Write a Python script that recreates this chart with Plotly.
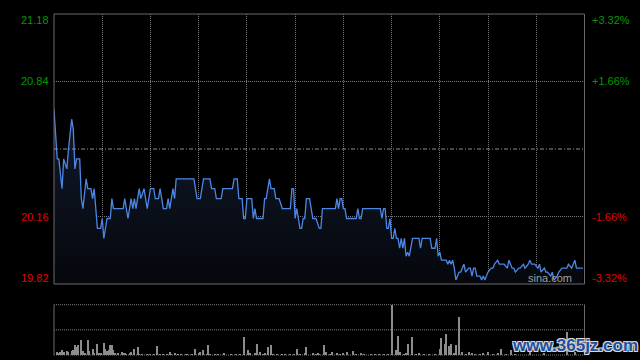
import plotly.graph_objects as go

# ---------------- data ----------------
prev_close = 20.50
price_minutes = [0, 2, 3, 5, 6, 8, 9, 11, 12, 13, 14, 16, 17, 18, 20, 21, 23, 24, 25, 26,
                 27, 29, 30, 31, 32, 33, 35, 36, 37, 43, 44, 45, 46, 48, 49, 50, 51, 52, 53, 54,
                 56, 58, 60, 62, 63, 65, 66, 67, 68, 70, 71, 72, 74, 75, 76, 87, 89, 91, 93, 97,
                 98, 100, 101, 104, 105, 111, 112, 114, 115, 117, 118, 119, 120, 123, 124, 125, 126, 130, 131, 132,
                 134, 135, 137, 138, 140, 142, 147, 148, 149, 150, 151, 152, 153, 154, 155, 156, 157, 159, 161, 163,
                 165, 166, 167, 175, 176, 177, 178, 179, 180, 181, 182, 188, 189, 190, 191, 192, 203, 204, 205, 206,
                 207, 208, 209, 210, 211, 212, 213, 214, 215, 216, 217, 218, 219, 220, 221, 223, 227, 228, 229, 234,
                 235, 237, 238, 239, 240, 241, 242, 244, 245, 246, 247, 248, 249, 250, 252, 253, 255, 256, 258, 259,
                 260, 261, 262, 263, 265, 266, 267, 268, 269, 270, 272, 273, 274, 276, 277, 280, 282, 283, 285, 286,
                 287, 289, 290, 292, 293, 295, 296, 297, 299, 301, 302, 303, 305, 306, 307, 309, 310, 311, 313, 314,
                 316, 319, 320, 322, 324, 325, 329]
prices = [20.70, 20.45, 20.45, 20.30, 20.45, 20.40, 20.50, 20.65, 20.60, 20.40, 20.45, 20.45, 20.25, 20.20, 20.35, 20.30, 20.30, 20.25, 20.30, 20.20,
          20.10, 20.10, 20.15, 20.05, 20.10, 20.15, 20.15, 20.25, 20.20, 20.20, 20.25, 20.20, 20.15, 20.25, 20.20, 20.25, 20.20, 20.25, 20.30, 20.25,
          20.30, 20.20, 20.30, 20.30, 20.25, 20.25, 20.30, 20.25, 20.20, 20.20, 20.25, 20.20, 20.30, 20.25, 20.35, 20.35, 20.25, 20.25, 20.35, 20.35,
          20.30, 20.30, 20.25, 20.25, 20.30, 20.30, 20.35, 20.35, 20.25, 20.25, 20.15, 20.15, 20.25, 20.25, 20.15, 20.20, 20.15, 20.15, 20.25, 20.25,
          20.35, 20.30, 20.30, 20.25, 20.25, 20.20, 20.20, 20.30, 20.30, 20.15, 20.20, 20.15, 20.10, 20.10, 20.15, 20.15, 20.25, 20.25, 20.15, 20.15,
          20.10, 20.10, 20.20, 20.20, 20.25, 20.20, 20.25, 20.25, 20.20, 20.20, 20.15, 20.15, 20.20, 20.15, 20.15, 20.20, 20.20, 20.15, 20.20, 20.20,
          20.10, 20.10, 20.15, 20.05, 20.05, 20.10, 20.05, 20.05, 20.00, 20.05, 20.00, 20.05, 19.96, 19.98, 19.96, 20.05, 20.05, 20.00, 20.05, 20.05,
          20.00, 20.00, 20.05, 19.96, 19.98, 19.94, 19.94, 19.94, 19.92, 19.94, 19.92, 19.94, 19.90, 19.84, 19.88, 19.88, 19.92, 19.88, 19.90, 19.90,
          19.86, 19.90, 19.90, 19.86, 19.86, 19.84, 19.86, 19.84, 19.86, 19.88, 19.90, 19.90, 19.92, 19.94, 19.92, 19.92, 19.90, 19.94, 19.90, 19.90,
          19.88, 19.90, 19.90, 19.92, 19.90, 19.92, 19.94, 19.92, 19.92, 19.90, 19.92, 19.88, 19.90, 19.88, 19.88, 19.86, 19.88, 19.84, 19.86, 19.88,
          19.90, 19.90, 19.92, 19.90, 19.94, 19.90, 19.90]

vol_minutes = [2, 3, 4, 5, 6, 8, 9, 11, 12, 13, 14, 15, 17, 18, 19, 21, 22, 24, 25, 27,
               28, 29, 31, 32, 33, 34, 35, 36, 37, 38, 40, 42, 43, 44, 45, 47, 48, 50, 52, 53,
               55, 58, 60, 62, 64, 66, 68, 70, 72, 73, 75, 77, 79, 82, 83, 86, 88, 90, 91, 93,
               95, 96, 97, 100, 102, 106, 110, 113, 116, 118, 121, 122, 125, 126, 128, 130, 131, 133, 135, 136,
               139, 142, 144, 147, 149, 151, 153, 156, 157, 161, 163, 164, 165, 168, 169, 172, 173, 176, 178, 180,
               182, 186, 188, 191, 193, 197, 200, 202, 205, 208, 210, 213, 214, 215, 218, 219, 220, 223, 225, 227,
               230, 233, 237, 240, 241, 243, 244, 246, 247, 249, 250, 252, 254, 256, 258, 260, 262, 265, 267, 270,
               273, 276, 278, 281, 284, 287, 296, 305, 319, 324]
volumes = [900, 700, 900, 1500, 1000, 1200, 900, 1300, 1500, 3000, 2500, 3000, 4500, 1300, 700, 4500, 1300, 1800, 700, 3300,
           700, 700, 3700, 2000, 1300, 1500, 3000, 3000, 1500, 700, 700, 1100, 700, 700, 500, 700, 1000, 1800, 2400, 500,
           300, 300, 300, 500, 2700, 300, 300, 300, 900, 500, 700, 300, 300, 500, 300, 300, 2000, 700, 900, 1500,
           500, 3000, 300, 300, 300, 600, 300, 300, 300, 5400, 1500, 700, 700, 3300, 900, 300, 700, 2400, 3000, 300,
           300, 300, 300, 300, 300, 1800, 300, 700, 2400, 700, 300, 700, 300, 3000, 900, 300, 900, 700, 300, 700,
           900, 1300, 300, 700, 300, 300, 300, 300, 300, 300, 15100, 1500, 5700, 900, 300, 700, 3300, 5400, 300, 700,
           300, 300, 500, 2000, 5300, 3300, 6500, 2700, 3300, 700, 3000, 11400, 1100, 500, 900, 700, 300, 300, 700, 900,
           300, 700, 2000, 300, 1500, 300, 900, 600, 7000, 900]

left_labels = ["21.18", "20.84", "20.16", "19.82"]
right_labels = ["+3.32%", "+1.66%", "-1.66%", "-3.32%"]
label_values = [21.18, 20.84, 20.16, 19.82]
session_minutes = 330
grid_minutes = list(range(30, session_minutes, 30))

# ---------------- layout geometry ----------------
W, H = 640, 360
xd = [54 / W, 584.5 / W]
main_dom = [1 - 284 / H, 1 - 14 / H]
vol_dom = [1 - 355 / H, 1 - 304.7 / H]

green = "#009a00"
red = "#e00000"
grid_col = "#7a7a7a"
frame_col = "#6a6a6a"
font_fam = "Liberation Sans, Arial, sans-serif"

fig = go.Figure()

fig.add_trace(go.Scatter(
    x=price_minutes, y=prices, mode="lines",
    line=dict(color="#4d87e6", width=1.3),
    fill="tozeroy",
    fillgradient=dict(type="vertical",
                      colorscale=[[0, "#05070c"], [1, "#111a2b"]],
                      start=label_values[-1], stop=max(prices)),
    xaxis="x", yaxis="y", hoverinfo="skip", showlegend=False))

fig.add_trace(go.Bar(
    x=vol_minutes, y=volumes, width=0.65,
    marker=dict(color="#8c8c8c", line=dict(width=0)),
    xaxis="x2", yaxis="y2", hoverinfo="skip", showlegend=False))

grid_dash = "1px,1px"

fig.update_layout(
    width=W, height=H,
    margin=dict(l=0, r=0, t=0, b=0),
    paper_bgcolor="black", plot_bgcolor="black",
    bargap=0,
    xaxis=dict(domain=xd, range=[0, session_minutes], tickvals=grid_minutes,
               showticklabels=False, ticks="", showgrid=True, gridcolor=grid_col,
               griddash=grid_dash, gridwidth=1, zeroline=False, showline=False, fixedrange=True),
    yaxis=dict(domain=main_dom, range=[label_values[-1], label_values[0]],
               tickvals=[label_values[1], label_values[2]], showticklabels=False, ticks="",
               showgrid=True, gridcolor=grid_col, griddash=grid_dash, gridwidth=1,
               zeroline=False, showline=False, fixedrange=True),
    xaxis2=dict(domain=xd, range=[0, session_minutes], anchor="y2", showticklabels=False,
                ticks="", showgrid=False, zeroline=False, showline=False, fixedrange=True),
    yaxis2=dict(domain=vol_dom, range=[0, max(volumes)], anchor="x2", showticklabels=False,
                ticks="", showgrid=False, zeroline=False, showline=False, fixedrange=True),
)

shapes = []
# main frame
shapes.append(dict(type="rect", xref="paper", yref="paper", x0=xd[0], x1=xd[1],
                   y0=main_dom[0], y1=main_dom[1], line=dict(color=frame_col, width=1),
                   fillcolor="rgba(0,0,0,0)", layer="above"))
# previous close dash-dot line
shapes.append(dict(type="line", xref="paper", yref="y", x0=xd[0], x1=xd[1],
                   y0=prev_close, y1=prev_close,
                   line=dict(color="#8f8f8f", width=1, dash="4px,2px,1px,2px")))
# volume panel frame
for xv in xd:
    shapes.append(dict(type="line", xref="paper", yref="paper", x0=xv, x1=xv,
                       y0=vol_dom[0], y1=vol_dom[1], line=dict(color=frame_col, width=1)))
for yv in [vol_dom[0], (vol_dom[0] + vol_dom[1]) / 2, vol_dom[1]]:
    shapes.append(dict(type="line", xref="paper", yref="paper", x0=xd[0], x1=xd[1],
                       y0=yv, y1=yv, line=dict(color=grid_col, width=1, dash=grid_dash),
                       layer="below"))
fig.update_layout(shapes=shapes)

ann = []
shifts = [-6, 0, 0, 6]
for i, (lv, ll, rl) in enumerate(zip(label_values, left_labels, right_labels)):
    col = green if lv > prev_close else red
    ann.append(dict(x=xd[0], xref="paper", y=lv, yref="y", text=ll, showarrow=False,
                    xanchor="right", yanchor="middle", xshift=-3, yshift=shifts[i],
                    font=dict(family=font_fam, size=11, color=col)))
    ann.append(dict(x=xd[1], xref="paper", y=lv, yref="y", text=rl, showarrow=False,
                    xanchor="left", yanchor="middle", xshift=5, yshift=shifts[i],
                    font=dict(family=font_fam, size=11, color=col)))
ann.append(dict(x=574 / W, xref="paper", y=1 - 277.7 / H, yref="paper", text="sina.com",
                showarrow=False, xanchor="right", yanchor="middle", xshift=0,
                font=dict(family=font_fam, size=11, color="#a0a0a0")))
ann.append(dict(x=575 / W, xref="paper", y=1 - 345.5 / H, yref="paper", text="www.365jz.com",
                showarrow=False, xanchor="center", yanchor="middle",
                font=dict(family=font_fam, size=17, color="#1f4f9e", weight="bold",
                          shadow="-1px -1px 0 #d8d8d8, 1px -1px 0 #d8d8d8, -1px 1px 0 #d8d8d8, 1px 1px 0 #d8d8d8")))
fig.update_layout(annotations=ann)

fig.write_html("out.html")
